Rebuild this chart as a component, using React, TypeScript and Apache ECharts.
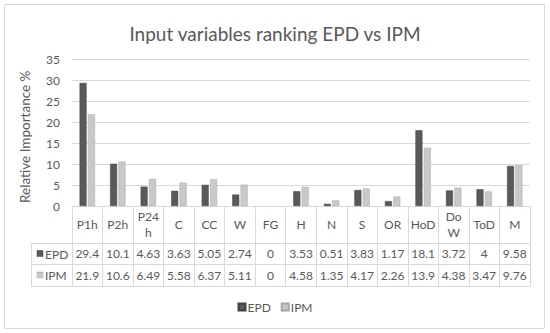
import React, { useEffect, useRef } from "react";
import * as echarts from "echarts";

const categories = ["P1h", "P2h", "P24h", "C", "CC", "W", "FG", "H", "N", "S", "OR", "HoD", "DoW", "ToD", "M"];
const headerLabels = ["P1h", "P2h", "P24\nh", "C", "CC", "W", "FG", "H", "N", "S", "OR", "HoD", "Do\nW", "ToD", "M"];
const epd = [29.4, 10.1, 4.63, 3.63, 5.05, 2.74, 0, 3.53, 0.51, 3.83, 1.17, 18.1, 3.72, 4, 9.58];
const ipm = [21.9, 10.6, 6.49, 5.58, 6.37, 5.11, 0, 4.58, 1.35, 4.17, 2.26, 13.9, 4.38, 3.47, 9.76];
const yTicks = { min: 0, max: 35, interval: 5 };

const FONT = "Lato";
const TXT = "#595959";
const LINE = "#d9d9d9";
const EPD_COLOR = "#595959";
const EPD_BORDER = "#404040";
const IPM_COLOR = "#c9c9c9";
const IPM_BORDER = "#a6a6a6";

export default function App() {
  const ref = useRef<HTMLDivElement>(null);
  useEffect(() => {
    const chart = echarts.init(ref.current!, null, { renderer: "svg" });
    const gridLeft = 72;
    const gridBottomY = 206;
    const rowLines = [243, 264, 286];
    const tableLeft = 31;
    const graphic: any[] = [
      {
        type: "rect",
        shape: { x: 4.5, y: 4.5, width: 540, height: 324 },
        style: { fill: "none", stroke: LINE, lineWidth: 1 },
        silent: true,
      },
      ...rowLines.map((y) => ({
        type: "line",
        shape: { x1: tableLeft, y1: y + 0.5, x2: gridLeft, y2: y + 0.5 },
        style: { stroke: LINE, lineWidth: 1 },
        silent: true,
      })),
      {
        type: "line",
        shape: { x1: tableLeft + 0.5, y1: rowLines[0], x2: tableLeft + 0.5, y2: rowLines[2] },
        style: { stroke: LINE, lineWidth: 1 },
        silent: true,
      },
      {
        type: "rect",
        shape: { x: 37, y: 250.5, width: 6, height: 6 },
        style: { fill: EPD_COLOR, stroke: EPD_BORDER, lineWidth: 0.5 },
      },
      {
        type: "text",
        x: 45,
        y: 254,
        style: { text: "EPD", font: `12px ${FONT}`, fill: TXT, verticalAlign: "middle" },
      },
      {
        type: "rect",
        shape: { x: 37, y: 272, width: 6, height: 6 },
        style: { fill: IPM_COLOR, stroke: IPM_BORDER, lineWidth: 0.5 },
      },
      {
        type: "text",
        x: 45,
        y: 275.5,
        style: { text: "IPM", font: `12px ${FONT}`, fill: TXT, verticalAlign: "middle" },
      },
    ];

    const valueAxis = (values: number[], offset: number, margin: number) => ({
      type: "category",
      data: categories,
      position: "bottom",
      offset,
      axisLine: { show: true, lineStyle: { color: LINE } },
      axisTick: { show: false },
      axisLabel: {
        interval: 0,
        margin,
        verticalAlign: "middle",
        color: TXT,
        fontFamily: FONT,
        fontSize: 12,
        formatter: (_v: string, i: number) => String(values[i]),
      },
    });

    const barData = (values: number[], border: string) =>
      values.map((v) => ({ value: v, itemStyle: { borderColor: border, borderWidth: v === 0 ? 0 : 0.5 } }));

    chart.setOption({
      animation: false,
      title: {
        text: "Input variables ranking EPD vs IPM",
        left: "center",
        top: 19,
        textStyle: { fontFamily: FONT, fontSize: 19, fontWeight: "normal", color: TXT },
      },
      graphic,
      legend: {
        data: ["EPD", "IPM"],
        top: 296,
        left: "center",
        itemWidth: 7,
        itemHeight: 7,
        itemGap: 10,
        icon: "rect",
        textStyle: { fontFamily: FONT, fontSize: 12, color: TXT, padding: [0, 0, 0, -3] },
      },
      grid: { left: gridLeft, right: 20, top: 59.5, bottom: 333 - gridBottomY },
      xAxis: [
        {
          type: "category",
          data: categories,
          position: "bottom",
          axisLine: { show: true, lineStyle: { color: LINE } },
          axisTick: { show: true, length: 80, interval: 0, alignWithLabel: false, lineStyle: { color: LINE } },
          axisLabel: {
            interval: 0,
            margin: 18,
            verticalAlign: "middle",
            lineHeight: 16,
            color: TXT,
            fontFamily: FONT,
            fontSize: 12,
            formatter: (_v: string, i: number) => headerLabels[i],
          },
        },
        valueAxis(epd, 37, 10.5),
        valueAxis(ipm, 58, 11),
        {
          type: "category",
          data: categories,
          position: "bottom",
          offset: 80,
          axisLine: { show: true, lineStyle: { color: LINE } },
          axisTick: { show: false },
          axisLabel: { show: false },
        },
      ],
      yAxis: {
        type: "value",
        min: yTicks.min,
        max: yTicks.max,
        interval: yTicks.interval,
        name: "Relative Importance %",
        nameLocation: "middle",
        nameGap: 40,
        nameTextStyle: { fontFamily: FONT, fontSize: 13.5, color: TXT, padding: [0, 0, 0, -8] },
        axisLine: { show: false },
        axisTick: { show: false },
        axisLabel: { color: TXT, fontFamily: FONT, fontSize: 12, margin: 12 },
        splitLine: { lineStyle: { color: LINE } },
      },
      series: [
        {
          name: "EPD",
          type: "bar",
          xAxisIndex: 0,
          data: barData(epd, EPD_BORDER),
          barWidth: 7,
          barGap: "20%",
          itemStyle: { color: EPD_COLOR, borderColor: EPD_BORDER, borderWidth: 0.5 },
        },
        {
          name: "IPM",
          type: "bar",
          xAxisIndex: 0,
          data: barData(ipm, IPM_BORDER),
          barWidth: 7,
          barGap: "20%",
          itemStyle: { color: IPM_COLOR, borderColor: IPM_BORDER, borderWidth: 0.5 },
        },
      ],
    });
    return () => chart.dispose();
  }, []);
  return <div ref={ref} style={{ width: 550, height: 333, position: "absolute", left: 0, top: 0 }} />;
}
